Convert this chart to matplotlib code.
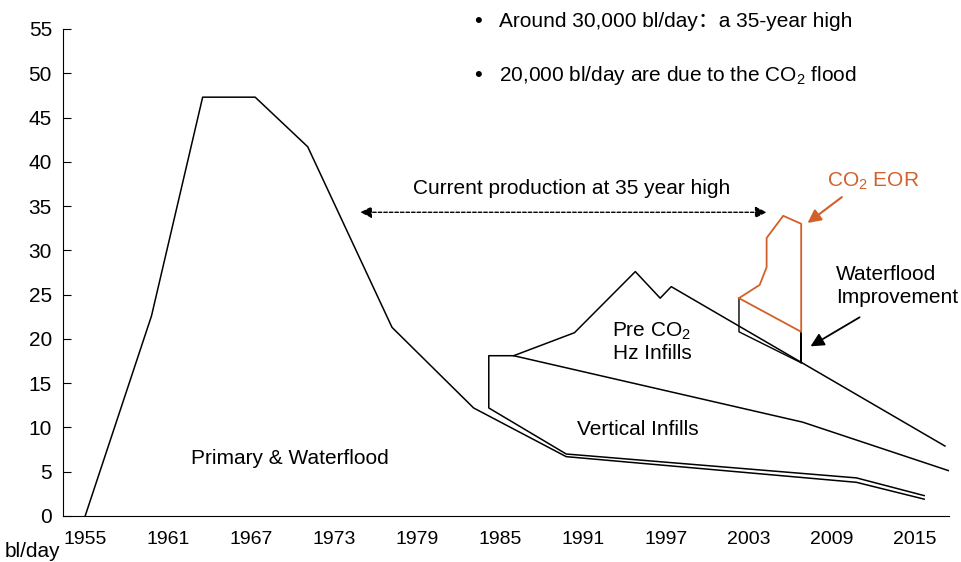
import matplotlib
matplotlib.use("Agg")
import matplotlib.pyplot as plt

plt.rcParams['font.family'] = ['Liberation Sans', 'Noto Sans CJK SC', 'DejaVu Sans']
plt.rcParams['mathtext.fontset'] = 'custom'
plt.rcParams['mathtext.rm'] = 'Liberation Sans'
plt.rcParams['mathtext.it'] = 'Liberation Sans:italic'

# primary & waterflood outline
main_years = [1955, 1959.8, 1963.5, 1967.3, 1971.1, 1977.2, 1983.1, 1989.8, 2010.8, 2015.7]
main_vals = [0, 22.6, 47.3, 47.3, 41.7, 21.3, 12.2, 6.7, 3.8, 1.9]

# vertical infills outline
vert_years = [2017.5, 2006.9, 1986.0, 1984.2, 1984.2, 1989.8, 2010.8, 2015.7]
vert_vals = [5.1, 10.6, 18.1, 18.1, 12.2, 7.0, 4.3, 2.3]

# pre CO2 hz infills top
hz_years = [1986.0, 1990.4, 1994.8, 1996.6, 1997.4, 2017.2]
hz_vals = [18.1, 20.7, 27.6, 24.6, 25.9, 7.9]

# waterflood improvement wedge
wf_years = [2002.3, 2002.3, 2006.8, 2006.8, 2006.8]
wf_vals = [24.6, 20.8, 17.3, 20.8, 17.3]

# CO2 EOR outline
eor_years = [2002.3, 2003.8, 2004.3, 2004.3, 2005.5, 2006.8, 2006.8, 2002.3]
eor_vals = [24.6, 26.1, 28.1, 31.4, 33.9, 33.0, 20.8, 24.6]

x_ticks = [1955, 1961, 1967, 1973, 1979, 1985, 1991, 1997, 2003, 2009, 2015]
y_ticks = [0, 5, 10, 15, 20, 25, 30, 35, 40, 45, 50, 55]

orange = '#d2602a'

fig = plt.figure(figsize=(9.61, 5.62), dpi=100)
ax = fig.add_axes([0.0656, 0.0819, 0.922, 0.8665])

ax.plot(main_years, main_vals, c='black', lw=1.1)
ax.plot(vert_years, vert_vals, c='black', lw=1.1)
ax.plot(hz_years, hz_vals, c='black', lw=1.1)
ax.plot(wf_years, wf_vals, c='black', lw=1.0)
ax.plot(eor_years, eor_vals, c=orange, lw=1.3)

ax.set_xlim(1953.4, 2017.5)
ax.set_ylim(0, 55)
ax.set_xticks(x_ticks)
ax.set_yticks(y_ticks)
ax.spines['top'].set_visible(False)
ax.spines['right'].set_visible(False)
ax.tick_params(axis='y', direction='in', length=6, labelsize=15, pad=8)
ax.tick_params(axis='x', length=0, labelsize=14, pad=11)

fig.text(0.005, 0.019, 'bl/day', fontsize=15, ha='left', va='center')

# labels in the chart
ax.text(1969.8, 6.5, 'Primary & Waterflood', fontsize=15, ha='center', va='center')
ax.text(1995.0, 9.8, 'Vertical Infills', fontsize=15, ha='center', va='center')
ax.text(1996.0, 19.7, 'Pre CO$_2$\nHz Infills', fontsize=15, ha='center', va='center',
        linespacing=1.15)
ax.text(1990.2, 37.0, 'Current production at 35 year high', fontsize=15,
        ha='center', va='center')
ax.annotate('', xy=(1974.7, 34.3), xytext=(2004.5, 34.3),
            arrowprops=dict(arrowstyle='<|-|>', color='black', lw=1.0,
                            linestyle=(0, (2.5, 1.5)), mutation_scale=17))

ax.text(2012.0, 37.8, 'CO$_2$ EOR', fontsize=15, color=orange, ha='center', va='center')
ax.annotate('', xy=(2007.1, 32.9), xytext=(2009.9, 36.2),
            arrowprops=dict(arrowstyle='-|>', color=orange, lw=1.5, mutation_scale=20))

ax.text(2009.3, 26.0, 'Waterflood\nImprovement', fontsize=15, ha='left', va='center',
        linespacing=1.25)
ax.annotate('', xy=(2007.3, 19.0), xytext=(2011.2, 22.6),
            arrowprops=dict(arrowstyle='-|>', color='black', lw=1.3, mutation_scale=20))

# bullets at the top
fig.text(0.497, 0.961, '\u2022', fontsize=16, ha='center', va='center')
fig.text(0.519, 0.961, 'Around 30,000 bl/day\uff1aa 35-year high', fontsize=15,
         ha='left', va='center')
fig.text(0.497, 0.8665, '\u2022', fontsize=16, ha='center', va='center')
fig.text(0.519, 0.8665, '20,000 bl/day are due to the CO$_2$ flood', fontsize=15,
         ha='left', va='center')

fig.savefig('out.png', dpi=100)
